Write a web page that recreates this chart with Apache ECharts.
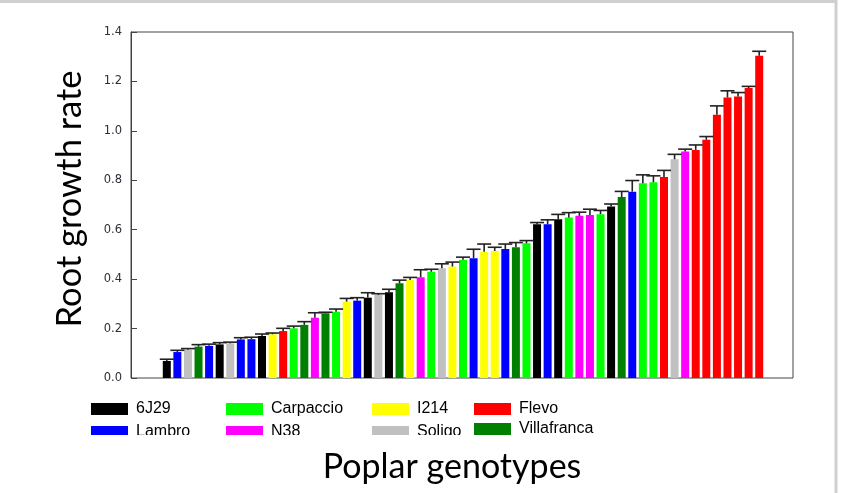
<!DOCTYPE html>
<html>
<head>
<meta charset="utf-8">
<script src="https://cdn.jsdelivr.net/npm/echarts@6/dist/echarts.min.js"></script>
<style>
  html, body { margin: 0; padding: 0; background: #fff; }
  #chart { width: 842px; height: 493px; }
</style>
</head>
<body>
<div id="chart"></div>
<script>
// Genotypes shown in the legend (column by column: top row, then bottom row)
const genotypes = ['6J29', 'Lambro', 'Carpaccio', 'N38', 'I214', 'Soligo', 'Flevo', 'Villafranca'];

// Genotype of each bar, left to right (bars sorted by root growth rate)
const barGenotype = [
  '6J29', 'Lambro', 'Soligo', 'Villafranca', 'Lambro', '6J29', 'Soligo', 'Lambro', 'Lambro', '6J29',
  'I214', 'Flevo', 'Carpaccio', 'Villafranca', 'N38', 'Villafranca', 'Carpaccio', 'I214', 'Lambro', '6J29',
  'Soligo', '6J29', 'Villafranca', 'I214', 'N38', 'Carpaccio', 'Soligo', 'I214', 'Carpaccio', 'Lambro',
  'I214', 'I214', 'Lambro', 'Villafranca', 'Carpaccio', '6J29', 'Lambro', '6J29', 'Carpaccio', 'N38',
  'N38', 'Carpaccio', '6J29', 'Villafranca', 'Lambro', 'Carpaccio', 'Carpaccio', 'Flevo', 'Soligo', 'N38',
  'Flevo', 'Flevo', 'Flevo', 'Flevo', 'Flevo', 'Flevo', 'Flevo'
];

// Mean root growth rate of each bar
const rootGrowth = [
  0.069, 0.105, 0.114, 0.127, 0.130, 0.136, 0.140, 0.156, 0.157, 0.170,
  0.177, 0.190, 0.201, 0.215, 0.244, 0.262, 0.268, 0.309, 0.313, 0.325,
  0.336, 0.347, 0.383, 0.397, 0.408, 0.430, 0.444, 0.451, 0.478, 0.485,
  0.511, 0.514, 0.522, 0.529, 0.545, 0.622, 0.622, 0.642, 0.649, 0.656,
  0.660, 0.663, 0.694, 0.732, 0.754, 0.788, 0.792, 0.813, 0.885, 0.916,
  0.923, 0.964, 1.065, 1.135, 1.139, 1.173, 1.304
];

// Standard error of each bar (drawn upward only)
const rootGrowthSE = [
  0.007, 0.007, 0.005, 0.008, 0.007, 0.007, 0.005, 0.007, 0.008, 0.008,
  0.005, 0.011, 0.009, 0.013, 0.020, 0.004, 0.011, 0.013, 0.012, 0.020,
  0.005, 0.012, 0.013, 0.010, 0.030, 0.010, 0.018, 0.018, 0.011, 0.036,
  0.031, 0.015, 0.020, 0.019, 0.011, 0.007, 0.018, 0.020, 0.020, 0.015,
  0.023, 0.015, 0.010, 0.023, 0.045, 0.034, 0.026, 0.027, 0.020, 0.010,
  0.020, 0.013, 0.036, 0.027, 0.016, 0.007, 0.018
];

// Y axis range
const yMin = 0, yMax = 1.4, yStep = 0.2;

// Colours per genotype
const genotypeColors = {
  '6J29': '#000000',
  'Lambro': '#0000ff',
  'Carpaccio': '#00ff00',
  'N38': '#ff00ff',
  'I214': '#ffff00',
  'Soligo': '#c0c0c0',
  'Flevo': '#ff0000',
  'Villafranca': '#008000'
};

const barIds = rootGrowth.map((_, i) => String(i + 1));

const chart = echarts.init(document.getElementById('chart'), null, { renderer: 'canvas' });

// One bar series per genotype, all sharing the same slot so each bar sits at its own position
const barSeries = genotypes.map(g => ({
  name: g,
  type: 'bar',
  xAxisIndex: 1,
  yAxisIndex: 1,
  barWidth: 8,
  barGap: '-100%',
  itemStyle: { color: genotypeColors[g] },
  data: rootGrowth.map((v, i) => (barGenotype[i] === g ? v : '-')),
  z: 2
}));

const errorSeries = {
  type: 'custom',
  xAxisIndex: 1,
  yAxisIndex: 1,
  z: 3,
  silent: true,
  encode: { x: 0, y: 1 },
  data: rootGrowth.map((v, i) => [i, v, rootGrowthSE[i]]),
  renderItem: function (params, api) {
    const i = api.value(0);
    const v = api.value(1);
    const e = api.value(2);
    const base = api.coord([i, v]);
    const top = api.coord([i, v + e]);
    const half = 7;
    const style = { stroke: '#222', lineWidth: 1.6 };
    return {
      type: 'group',
      children: [
        { type: 'line', shape: { x1: base[0], y1: base[1], x2: top[0], y2: top[1] }, style: style },
        { type: 'line', shape: { x1: top[0] - half, y1: top[1], x2: top[0] + half, y2: top[1] }, style: style }
      ]
    };
  }
};

const legendText = { fontSize: 16, fontFamily: 'Liberation Sans, Arial, sans-serif', color: '#000', padding: [0, 0, 0, 3] };
function legendColumn(names, left, gap) {
  return {
    orient: 'vertical',
    left: left,
    top: 401,
    padding: 0,
    itemWidth: 37,
    itemHeight: 12,
    itemGap: gap,
    icon: 'rect',
    selectedMode: false,
    textStyle: legendText,
    data: names
  };
}

const option = {
  backgroundColor: '#ffffff',
  animation: false,
  legend: [
    legendColumn(['6J29', 'Lambro'], 91, 7),
    legendColumn(['Carpaccio', 'N38'], 226, 7),
    legendColumn(['I214', 'Soligo'], 372, 7),
    legendColumn(['Flevo', 'Villafranca'], 474, 4)
  ],
  grid: [
    // plot frame
    { left: 131, top: 32, width: 662, height: 346, show: true, borderColor: '#444', borderWidth: 1, backgroundColor: 'transparent' },
    // bar area
    { left: 161.5, top: 32, width: 603, height: 346 }
  ],
  xAxis: [
    { gridIndex: 0, type: 'value', show: false, min: 0, max: 1 },
    {
      gridIndex: 1,
      type: 'category',
      data: barIds,
      axisLine: { show: false },
      axisTick: { show: false },
      axisLabel: { show: false },
      name: 'Poplar genotypes',
      nameLocation: 'middle',
      nameGap: 72,
      nameTextStyle: { fontSize: 34, fontFamily: 'Lato, sans-serif', color: '#000', padding: [0, 22, 0, 0] }
    }
  ],
  yAxis: [
    { gridIndex: 0, type: 'value', show: false, min: 0, max: 1 },
    {
      gridIndex: 1,
      type: 'value',
      min: yMin,
      max: yMax,
      interval: yStep,
      offset: 30.5,
      axisLine: { show: true, lineStyle: { color: '#444', width: 1 } },
      axisTick: { show: true, inside: true, length: 6, lineStyle: { color: '#444' } },
      axisLabel: {
        margin: 9,
        fontSize: 11.5,
        fontFamily: 'DejaVu Sans, sans-serif',
        color: '#2e2e3a',
        formatter: v => v.toFixed(1)
      },
      splitLine: { show: false },
      name: 'Root growth rate',
      nameLocation: 'middle',
      nameRotate: 90,
      nameGap: 44,
      nameTextStyle: { fontSize: 34.5, fontFamily: 'Lato, sans-serif', color: '#000', padding: [0, 0, 0, 12] }
    }
  ],
  graphic: [
    // lower edge of the legend box
    { type: 'rect', z: 100, shape: { x: 85, y: 435, width: 382, height: 13 }, style: { fill: '#ffffff' } },
    // page edge
    { type: 'rect', z: 100, silent: true, shape: { x: -10, y: 1.5, width: 846, height: 510 }, style: { fill: 'none', stroke: '#cfcfcf', lineWidth: 3 } }
  ],
  series: barSeries.concat([errorSeries])
};

chart.setOption(option);
</script>
</body>
</html>
